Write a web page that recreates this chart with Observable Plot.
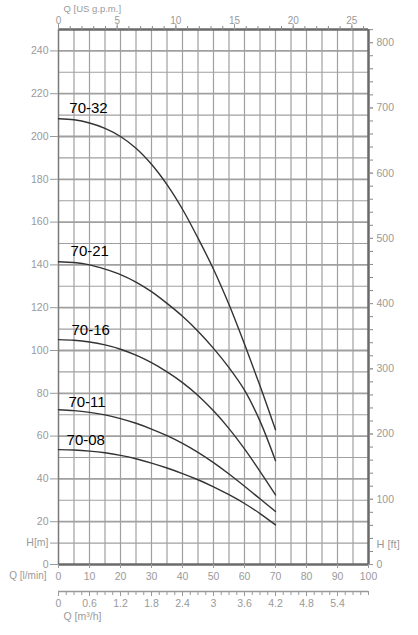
<!DOCTYPE html>
<html><head><meta charset="utf-8">
<script src="https://cdn.jsdelivr.net/npm/d3@7"></script>
<script src="https://cdn.jsdelivr.net/npm/@observablehq/plot@0.6"></script>
<style>body{margin:0;background:#fff}svg{display:block}</style>
</head><body><div id="chart"></div>
<script>
// Flow (l/min) sample points and head (m) for each pump model
const flow = [0, 5, 10, 15, 20, 25, 30, 35, 40, 45, 50, 55, 60, 65, 70];
const models = ["70-32", "70-21", "70-16", "70-11", "70-08"];
const head_70_32 = [208.3, 207.8, 206.3, 203.8, 200, 194.5, 187, 177.5, 166, 152.5, 138, 121.5, 103, 83.5, 63];
const head_70_21 = [141.5, 141.1, 140, 138, 135.5, 132, 127.5, 122, 116, 109, 101, 92, 81.5, 67, 48.5];
const head_70_16 = [105.1, 104.8, 104, 102.6, 100.6, 97.8, 94.3, 90, 85, 79, 71.8, 63.5, 54, 43.5, 32.5];
const head_70_11 = [72.3, 71.9, 71.1, 69.9, 68.2, 66, 63.3, 60.2, 56.6, 52.4, 47.6, 42.3, 36.6, 30.7, 24.8];
const head_70_08 = [53.7, 53.5, 53, 52.2, 51, 49.4, 47.4, 45.1, 42.5, 39.6, 36.3, 32.6, 28.5, 23.8, 18.5];
const heads = [head_70_32, head_70_21, head_70_16, head_70_11, head_70_08];
const labelQ = [3.5, 3.9, 4.2, 3.2, 2.6];
const labelH = [213, 146.4, 109.5, 75.8, 58];

// Axis ticks
const lminTicks = [0, 10, 20, 30, 40, 50, 60, 70, 80, 90, 100];
const headTicks = [0, 10, 20, 40, 60, 80, 100, 120, 140, 160, 180, 200, 220, 240];
const ftLabels = [0, 100, 200, 300, 400, 500, 600, 700, 800];
const gpmLabels = [0, 5, 10, 15, 20, 25];
const m3Labels = [0, 0.6, 1.2, 1.8, 2.4, 3, 3.6, 4.2, 4.8, 5.4];
const gridQ = d3.range(5, 100, 5);
const gridH = d3.range(10, 250, 10);
const ftMinor = d3.range(0, 821, 20);
const gpmMinor = d3.range(0, 27, 1);
const m3Minor = d3.range(0, 6.001, 0.15);

const FT = 0.3048, GPM = 3.785411784, M3 = 100 / 6;

const rows = models.flatMap((m, i) => flow.map((q, j) => ({model: m, q, h: heads[i][j]})));
const labels = models.map((m, i) => ({model: m, q: labelQ[i], h: labelH[i]}));

const gray = "#9a9a9a";
const chart = Plot.plot({
  width: 418, height: 635,
  marginLeft: 58, marginRight: 50, marginTop: 29, marginBottom: 71,
  x: {domain: [0, 100], label: null},
  y: {domain: [0, 250], label: null},
  style: {fontFamily: "'Liberation Sans', Arial, sans-serif", fontSize: "10.5px", background: "#fff", color: gray},
  marks: [
    // grid
    Plot.ruleX(gridQ, {stroke: "#a0a0a0", strokeWidth: 1.2}),
    Plot.ruleY(gridH, {stroke: "#a0a0a0", strokeWidth: d => d % 20 === 0 ? 1.8 : 1.1}),
    // frame
    Plot.ruleX([0], {stroke: "#7a7a7a", strokeWidth: 1.5}),
    Plot.ruleX([100], {stroke: "#6a6a6a", strokeWidth: 2.5}),
    Plot.ruleY([0, 250], {stroke: "#6a6a6a", strokeWidth: 2.5}),
    // left axis (m)
    Plot.axisY({anchor: "left", label: null, ticks: headTicks, tickSize: 8, tickPadding: 2, color: gray,
      tickFormat: d => d === 10 ? "H[m]" : d}),
    // right axis (ft)
    Plot.axisY({anchor: "right", label: null, ticks: ftMinor.map(f => f * FT), tickSize: 4, text: null, color: "#888"}),
    Plot.axisY({anchor: "right", label: null, ticks: ftLabels.map(f => f * FT), tickSize: 4, tickPadding: 4, color: gray,
      tickFormat: d => Math.round(d / FT)}),
    Plot.text(["H [ft]"], {frameAnchor: "right", y: 30 * FT, dx: 8, textAnchor: "start", fill: gray, fontSize: 11}),
    // top axis (US gpm)
    Plot.axisX({anchor: "top", label: null, ticks: gpmMinor.map(g => g * GPM), tickSize: 4, text: null, color: "#888"}),
    Plot.axisX({anchor: "top", label: null, ticks: gpmLabels.map(g => g * GPM), tickSize: 6, tickPadding: 0, fontSize: 10, color: gray,
      tickFormat: d => Math.round(d / GPM)}),
    Plot.text(["Q [US g.p.m.]"], {frameAnchor: "top-left", dx: 5, dy: -24, textAnchor: "start", fill: gray, fontSize: 9.5}),
    // bottom axis (l/min)
    Plot.axisX({anchor: "bottom", label: null, ticks: lminTicks, tickSize: 4, tickPadding: 4, color: gray}),
    Plot.text(["Q [l/min]"], {frameAnchor: "bottom-left", dx: -12, dy: 14.5, textAnchor: "end", fill: gray, fontSize: 10}),
    // second bottom axis (m3/h)
    Plot.ruleY([0], {x1: 0, x2: 100, dy: 27, stroke: "#999", strokeWidth: 1.5}),
    Plot.axisX({anchor: "bottom", label: null, ticks: m3Minor.map(m => m * M3), tickSize: 4, text: null, dy: 27, color: "#999"}),
    Plot.axisX({anchor: "bottom", label: null, ticks: m3Labels.map(m => m * M3), tickSize: 5, tickPadding: 3, dy: 27, color: gray,
      tickFormat: d => +(d / M3).toFixed(2)}),
    Plot.text(["Q [m³/h]"], {frameAnchor: "bottom-left", dx: 5, dy: 55, textAnchor: "start", fill: gray, fontSize: 10.5}),
    // curves
    Plot.line(rows, {x: "q", y: "h", z: "model", stroke: "#333", strokeWidth: 1.4, curve: "catmull-rom"}),
    Plot.text(labels, {x: "q", y: "h", text: "model", textAnchor: "start", fontSize: 15, fill: "#000", ariaLabel: "curve-label"})
  ]
});
document.getElementById("chart").append(chart);
// white boxes behind curve labels
chart.querySelectorAll('g[aria-label="curve-label"] text').forEach(t => {
  const b = t.getBBox();
  const r = document.createElementNS("http://www.w3.org/2000/svg", "rect");
  r.setAttribute("x", b.x - 4); r.setAttribute("y", b.y);
  r.setAttribute("width", b.width + 8); r.setAttribute("height", b.height);
  r.setAttribute("fill", "#fff");
  if (t.getAttribute("transform")) r.setAttribute("transform", t.getAttribute("transform"));
  t.parentNode.insertBefore(r, t);
});
</script>
</body></html>
